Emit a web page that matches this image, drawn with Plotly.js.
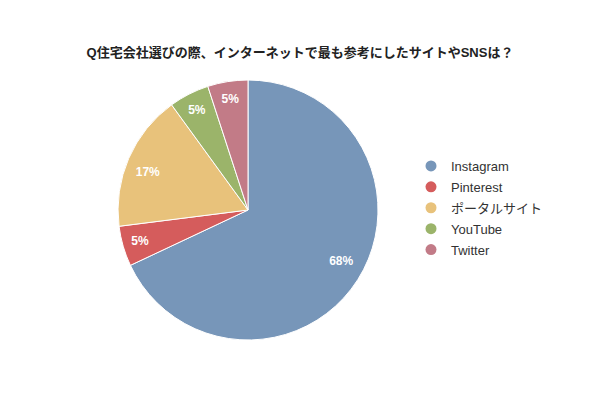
<!DOCTYPE html>
<html><head><meta charset="utf-8">
<script src="https://cdn.plot.ly/plotly-3.0.1.min.js"></script>
<style>body{margin:0;background:#fff}#c{width:600px;height:400px}</style>
</head><body><div id="c"></div>
<script>
const labels = ["Instagram", "Pinterest", "ポータルサイト", "YouTube", "Twitter"];
const values = [68, 5, 17, 5, 5];
const colors = ["#7796b9", "#d55c5c", "#e8c27b", "#9bb46a", "#c27b87"];
const titleText = "Q住宅会社選びの際、インターネットで最も参考にしたサイトやSNSは？";

const font = '"Liberation Sans", Arial, "Noto Sans CJK JP", sans-serif';
const txtFont = {color: "#ffffff", size: 12, family: font, weight: "bold"};
const traces = [{
  type: "pie",
  labels: labels,
  values: values,
  marker: {colors: colors, line: {color: "#ffffff", width: 1}},
  sort: false,
  direction: "clockwise",
  rotation: 0,
  texttemplate: "%{value}%",
  textposition: ["none", "inside", "none", "inside", "inside"],
  insidetextorientation: "horizontal",
  textfont: txtFont,
  showlegend: false,
  hoverinfo: "label+percent",
  domain: {x: [0.1967, 0.63], y: [0.15, 0.8]}
}, {
  // transparent inner pie used only to place the labels of the large slices
  type: "pie",
  labels: labels,
  values: values,
  marker: {colors: labels.map(() => "rgba(0,0,0,0)"), line: {width: 0}},
  sort: false,
  direction: "clockwise",
  rotation: 0,
  texttemplate: "%{value}%",
  textposition: ["outside", "none", "outside", "none", "none"],
  automargin: false,
  textfont: txtFont,
  showlegend: false,
  hoverinfo: "skip",
  domain: {x: [0.26, 0.5667], y: [0.245, 0.705]}
}];
labels.forEach((l, i) => {
  traces.push({
    type: "scatter", mode: "markers", x: [null], y: [null], name: l,
    legendgroup: "g" + i,
    marker: {color: colors[i], size: 11, symbol: "circle"},
    showlegend: true, hoverinfo: "skip"
  });
});
const layout = {
  width: 600, height: 400,
  margin: {l: 0, r: 0, t: 0, b: 0},
  paper_bgcolor: "#fff", plot_bgcolor: "#fff",
  font: {family: font, color: "#333"},
  title: {text: titleText, x: 0.5, xanchor: "center", y: 0.87, yanchor: "middle",
          font: {size: 13, color: "#222", family: font, weight: "bold"}},
  xaxis: {visible: false, domain: [0.9, 1]},
  yaxis: {visible: false, domain: [0.9, 1]},
  legend: {x: 0.685, xanchor: "left", y: 0.48, yanchor: "middle",
           font: {size: 13, color: "#333", family: font}, itemwidth: 30, tracegroupgap: 1},
  showlegend: true
};
Plotly.newPlot("c", traces, layout, {displayModeBar: false, staticPlot: true});
</script></body></html>
